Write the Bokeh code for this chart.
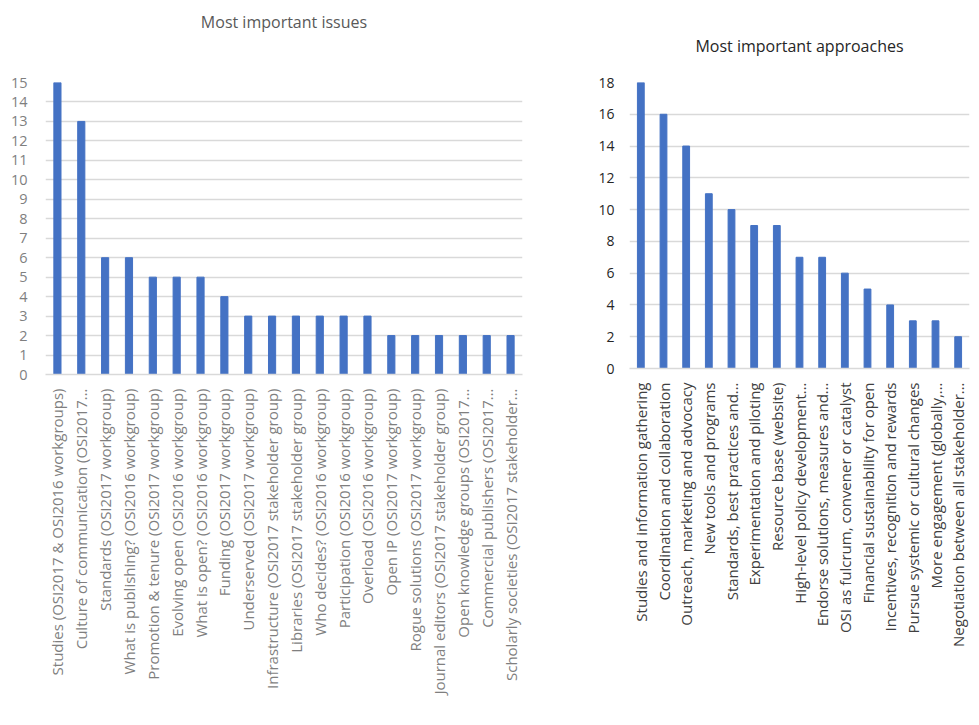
from bokeh.plotting import figure
from bokeh.layouts import row
from bokeh.models import FactorRange, Range1d, FixedTicker, Title
from bokeh.embed import file_html
from bokeh.resources import INLINE
import math

# ---- data ----
issue_labels = [
    "Studies (OSI2017 & OSI2016 workgroups)",
    "Culture of communication (OSI2017\u2026",
    "Standards (OSI2017 workgroup)",
    "What is publishing? (OSI2016 workgroup)",
    "Promotion & tenure (OSI2017 workgroup)",
    "Evolving open (OSI2016 workgroup)",
    "What is open? (OSI2016 workgroup)",
    "Funding (OSI2017 workgroup)",
    "Underserved (OSI2017 workgroup)",
    "Infrastructure (OSI2017 stakeholder group)",
    "Libraries (OSI2017 stakeholder group)",
    "Who decides? (OSI2016 workgroup)",
    "Participation (OSI2016 workgroup)",
    "Overload (OSI2016 workgroup)",
    "Open IP (OSI2017 workgroup)",
    "Rogue solutions (OSI2017 workgroup)",
    "Journal editors (OSI2017 stakeholder group)",
    "Open knowledge groups (OSI2017\u2026",
    "Commercial publishers (OSI2017\u2026",
    "Scholarly societies (OSI2017 stakeholder\u2026",
]
issue_values = [15, 13, 6, 6, 5, 5, 5, 4, 3, 3, 3, 3, 3, 3, 2, 2, 2, 2, 2, 2]
issue_ticks = list(range(0, 16))

approach_labels = [
    "Studies and information gathering",
    "Coordination and collaboration",
    "Outreach, marketing and advocacy",
    "New tools and programs",
    "Standards, best practices and\u2026",
    "Experimentation and piloting",
    "Resource base (website)",
    "High-level policy development\u2026",
    "Endorse solutions, measures and\u2026",
    "OSI as fulcrum, convener or catalyst",
    "Financial sustainability for open",
    "Incentives, recognition and rewards",
    "Pursue systemic or cultural changes",
    "More engagement (globally,\u2026",
    "Negotiation between all stakeholder\u2026",
]
approach_values = [18, 16, 14, 11, 10, 9, 9, 7, 7, 6, 5, 4, 3, 3, 2]
approach_ticks = list(range(0, 19, 2))

BAR = "#4472c4"
GRID = "#d9d9d9"
FONT = "Open Sans"


def style(p, tick_color, tick_size, xlab_color, xlab_size, ystandoff):
    p.xgrid.grid_line_color = None
    p.ygrid.grid_line_color = GRID
    p.ygrid.grid_line_width = 1.5
    p.yaxis.axis_line_color = None
    p.yaxis.major_tick_line_color = None
    p.yaxis.minor_tick_line_color = None
    p.yaxis.major_label_standoff = ystandoff
    p.xaxis.axis_line_color = GRID
    p.xaxis.axis_line_width = 1.5
    p.xaxis.major_tick_line_color = None
    p.xaxis.minor_tick_line_color = None
    p.yaxis.major_label_text_font = FONT
    p.yaxis.major_label_text_font_size = tick_size
    p.yaxis.major_label_text_color = tick_color
    p.xaxis.major_label_text_font = FONT
    p.xaxis.major_label_text_font_size = xlab_size
    p.xaxis.major_label_text_color = xlab_color
    p.xaxis.major_label_orientation = math.pi / 2
    p.xaxis.major_label_standoff = 8
    p.outline_line_color = None


left = figure(
    x_range=FactorRange(*issue_labels, range_padding=0),
    y_range=Range1d(0, 15),
    frame_width=477, frame_height=292,
    min_border_left=45, min_border_right=50, min_border_top=82, min_border_bottom=330,
    toolbar_location=None, output_backend="svg",
)
left.vbar(x=issue_labels, top=issue_values, width=0.3, color=BAR)
left.yaxis.ticker = FixedTicker(ticks=issue_ticks)
style(left, "#7f7f7f", "14.5px", "#7f7f7f", "15px", 12)
# spacer panel between the frame and the title, then the title itself
left.add_layout(Title(text=" ", text_font_size="2px", standoff=46), "above")
left.add_layout(Title(text="Most important issues", text_font=FONT, text_font_size="16px",
                      text_font_style="normal", text_color="#595959", align="center",
                      standoff=0), "above")

right = figure(
    x_range=FactorRange(*approach_labels, range_padding=0),
    y_range=Range1d(0, 18),
    frame_width=340, frame_height=286,
    min_border_left=57, min_border_right=2, min_border_top=82, min_border_bottom=330,
    title="Most important approaches",
    toolbar_location=None, output_backend="svg",
)
right.vbar(x=approach_labels, top=approach_values, width=0.3, color=BAR)
right.yaxis.ticker = FixedTicker(ticks=approach_ticks)
style(right, "#262626", "14px", "#404040", "15px", 9)
right.title.text_font = FONT
right.title.text_font_style = "normal"
right.title.align = "center"
right.title.text_font_size = "16px"
right.title.text_color = "#262626"
right.title.standoff = 52

layout = row(left, right, spacing=0)
open("out.html", "w").write(file_html(layout, INLINE))
